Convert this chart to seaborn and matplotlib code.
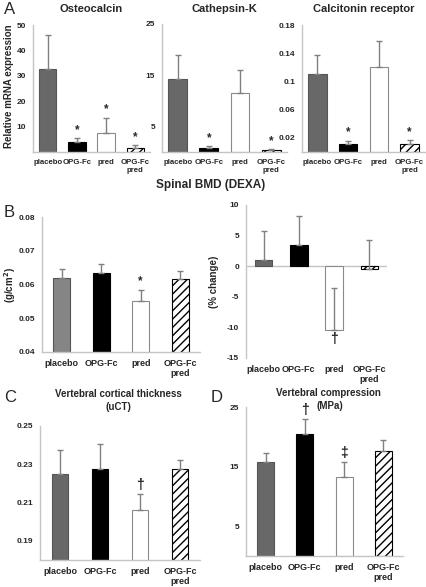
import numpy as np
import pandas as pd
import matplotlib
matplotlib.use('Agg')
import matplotlib.pyplot as plt
import seaborn as sns

# --- data ---
groups = ['placebo', 'OPG-Fc', 'pred', 'OPG-Fc\npred']

osteocalcin = [32.7, 4.0, 7.5, 1.5]
osteocalcin_err = [13.5, 1.5, 6.0, 1.2]
osteocalcin_sig = ['', '*', '*', '*']

cathepsin = [14.2, 0.8, 11.5, 0.3]
cathepsin_err = [4.8, 0.4, 4.5, 0.3]
cathepsin_sig = ['', '*', '', '*']

calcitonin = [0.110, 0.011, 0.120, 0.012]
calcitonin_err = [0.028, 0.005, 0.038, 0.005]
calcitonin_sig = ['', '*', '', '*']

bmd = [0.0620, 0.0635, 0.0550, 0.0615]
bmd_err = [0.0025, 0.0027, 0.0035, 0.0026]
bmd_sig = ['', '', '*', '']

bmd_change = [1.0, 3.5, -10.5, -0.5]
bmd_change_err = [4.8, 4.7, 7.0, 4.8]

cortical = [0.2250, 0.2275, 0.2060, 0.2275]
cortical_err = [0.0125, 0.0130, 0.0085, 0.0050]
cortical_sig = ['', '', '\u2020', '']

compression = [15.7, 20.4, 13.3, 17.7]
compression_err = [1.5, 2.6, 2.4, 1.8]
compression_sig = ['', '\u2020', '\u2021', '']

sns.set_style('white')
plt.rcParams['font.family'] = ['Liberation Sans', 'DejaVu Sans']
plt.rcParams['hatch.linewidth'] = 1.0

W, H = 427, 587
fig = plt.figure(figsize=(W / 100, H / 100), dpi=100)

AXIS_GREY = '#c4c4c4'
ERR_GREY = '#808080'


def px_axes(left, right, top, bottom):
    return fig.add_axes([left / W, (H - bottom) / H, (right - left) / W, (bottom - top) / H])


def fig_label(x, y, s, **kw):
    fig.text(x / W, 1 - y / H, s, ha='center', va='center', **kw)


def bar_panel(ax, values, errs, sig, ylim, yticks, yticklabels, width,
              placebo='#686868', xsize=6.5):
    df = pd.DataFrame({'group': groups, 'value': values})
    colors = [placebo, '#000000', '#ffffff', '#ffffff']
    sns.barplot(data=df, x='group', y='value', hue='group', palette=colors,
                width=width, legend=False, ax=ax, zorder=2)
    edges = ['#555555', '#000000', '#8a8a8a', '#000000']
    for i, p in enumerate(ax.patches):
        p.set_edgecolor(edges[i])
        p.set_linewidth(0.8)
        if i == 3:
            p.set_hatch('////')
    ax.errorbar(range(4), values, yerr=[np.zeros(4), errs], fmt='none',
                ecolor=ERR_GREY, elinewidth=1, capsize=2, capthick=1, zorder=3)
    if sig is not None:
        for i, s in enumerate(sig):
            if s:
                ax.annotate(s, (i, values[i] + errs[i]), xytext=(0, 1.5),
                            textcoords='offset points', ha='center', va='bottom',
                            fontsize=8.5 if s == '*' else 10, fontweight='bold')
    ax.set_ylim(*ylim)
    ax.set_yticks(yticks)
    ax.set_yticklabels(yticklabels)
    ax.set_xlim(-0.5, 3.5)
    ax.set_xlabel('')
    ax.set_ylabel('')
    sns.despine(ax=ax)
    for sp in ('left', 'bottom'):
        ax.spines[sp].set_color(AXIS_GREY)
        ax.spines[sp].set_linewidth(1)
    ax.tick_params(axis='y', length=2, color=AXIS_GREY, labelsize=6, pad=3)
    ax.tick_params(axis='x', length=0, labelsize=xsize, pad=5)
    for t in ax.get_xticklabels() + ax.get_yticklabels():
        t.set_fontweight('bold')


# --- panel A ---
ax1 = px_axes(33, 150, 25, 152)
bar_panel(ax1, osteocalcin, osteocalcin_err, osteocalcin_sig, (0, 50),
          [10, 20, 30, 40, 50], ['10', '20', '30', '40', '50'], 0.6, xsize=5.6)
ax1.set_title('Osteocalcin', fontsize=8, fontweight='bold', pad=9)

ax2 = px_axes(162, 287, 24, 152)
bar_panel(ax2, cathepsin, cathepsin_err, cathepsin_sig, (0, 25),
          [5, 15, 25], ['5', '15', '25'], 0.6, xsize=5.6)
ax2.set_title('Cathepsin-K', fontsize=8, fontweight='bold', pad=9)

ax3 = px_axes(302, 425, 25, 152)
bar_panel(ax3, calcitonin, calcitonin_err, calcitonin_sig, (0, 0.18),
          [0.02, 0.06, 0.10, 0.14, 0.18], ['0.02', '0.06', '0.1', '0.14', '0.18'],
          0.6, xsize=5.6)
ax3.set_title('Calcitonin receptor', fontsize=8, fontweight='bold', pad=9)

fig.text(4 / W, 1 - 9 / H, 'A', fontsize=12, va='center', ha='left')
fig_label(9, 86, 'Relative mRNA expression', fontsize=7, fontweight='bold', rotation=90)
fig_label(211, 185, 'Spinal BMD (DEXA)', fontsize=8.5, fontweight='bold')

# --- panel B ---
ax4 = px_axes(42, 200, 217, 352)
bar_panel(ax4, bmd, bmd_err, bmd_sig, (0.04, 0.08),
          [0.04, 0.05, 0.06, 0.07, 0.08], ['0.04', '0.05', '0.06', '0.07', '0.08'],
          0.43, placebo='#858585')
fig_label(10, 285, '(g/cm$^\\mathbf{2}$)', fontsize=7, fontweight='bold', rotation=90)

ax5 = px_axes(246, 387, 205, 358)
bar_panel(ax5, bmd_change, bmd_change_err, None, (-15, 10),
          [-15, -10, -5, 0, 5, 10], ['-15', '-10', '-5', '0', '5', '10'], 0.49)
ax5.spines['bottom'].set_visible(False)
ax5.axhline(0, color=AXIS_GREY, lw=1, zorder=1)
ax5.annotate('\u2020', (2, bmd_change[2]), xytext=(0, -1), textcoords='offset points',
             ha='center', va='top', fontsize=10, fontweight='bold')
fig_label(214, 282, '(% change)', fontsize=7, fontweight='bold', rotation=90)

fig.text(4 / W, 1 - 213 / H, 'B', fontsize=12, va='center', ha='left')

# --- panel C ---
ax6 = px_axes(40, 200, 426, 560)
bar_panel(ax6, cortical, cortical_err, cortical_sig, (0.18, 0.25),
          [0.19, 0.21, 0.23, 0.25], ['0.19', '0.21', '0.23', '0.25'], 0.42)
fig_label(118, 394, 'Vertebral cortical thickness', fontsize=7, fontweight='bold')
fig_label(118, 407, '(uCT)', fontsize=7, fontweight='bold')
fig.text(4 / W, 1 - 397 / H, 'C', fontsize=12, va='center', ha='left')

# --- panel D ---
ax7 = px_axes(246, 403, 407, 556)
bar_panel(ax7, compression, compression_err, compression_sig, (0, 25),
          [5, 15, 25], ['5', '15', '25'], 0.43)
fig_label(328, 393, 'Vertebral compression', fontsize=7, fontweight='bold')
fig_label(330, 406, '(MPa)', fontsize=7, fontweight='bold')
fig.text(211 / W, 1 - 397 / H, 'D', fontsize=12, va='center', ha='left')

fig.savefig('out.png', dpi=100)
